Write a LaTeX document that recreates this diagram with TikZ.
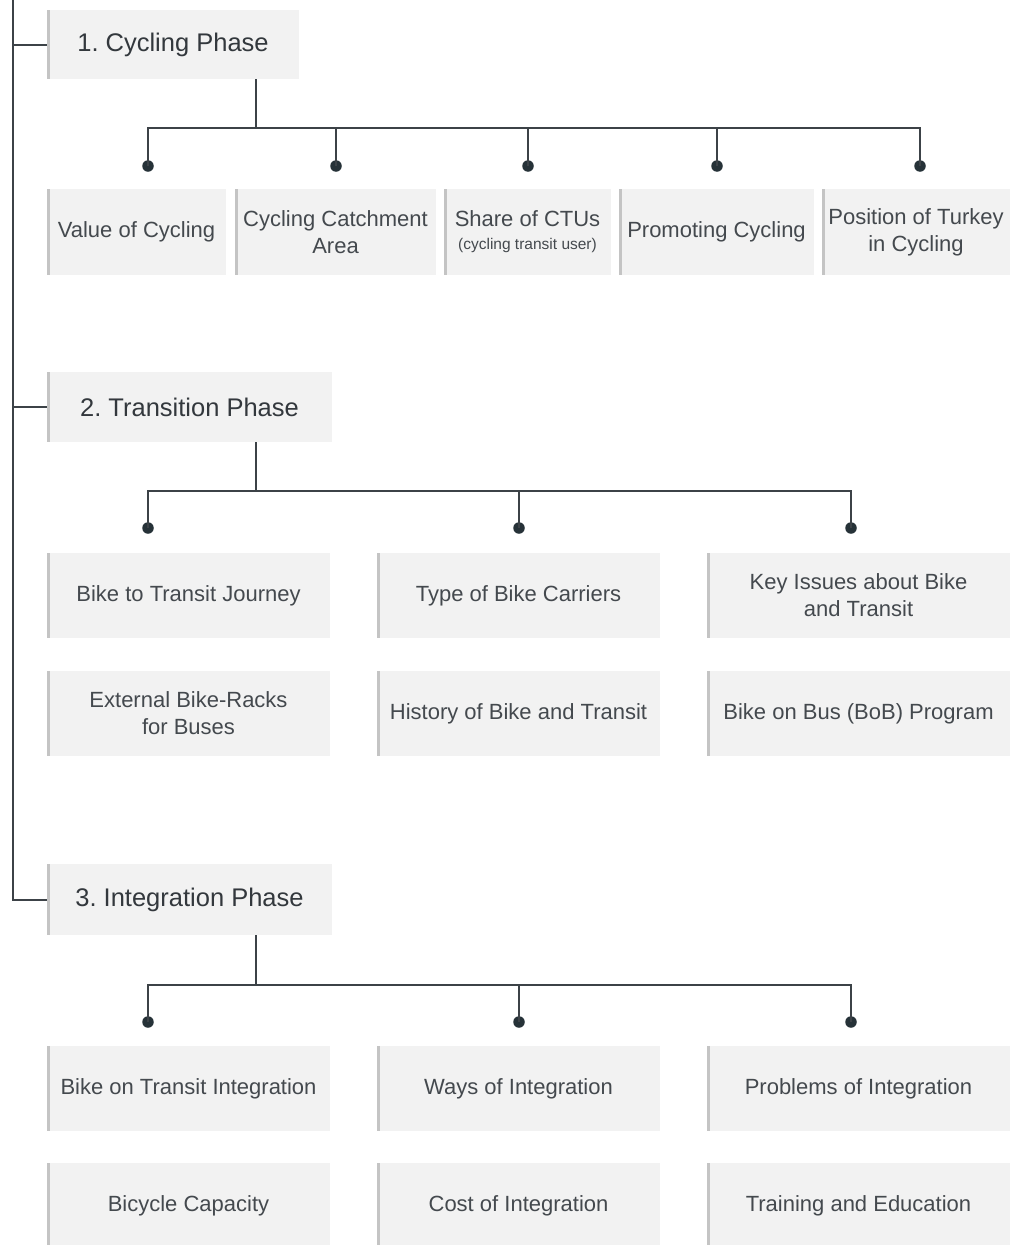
\documentclass[tikz,border=0pt]{standalone}
\usepackage{fontspec}
\setmainfont{Liberation Sans}
\frenchspacing
\begin{document}
\definecolor{boxfill}{HTML}{F2F2F2}
\definecolor{boxedge}{HTML}{C4C4C4}
\definecolor{linecol}{HTML}{3C4247}
\definecolor{dotcol}{HTML}{263238}
\definecolor{txtcol}{HTML}{44494E}
\definecolor{headcol}{HTML}{33383D}
\begin{tikzpicture}[x=1pt,y=-1pt,
  card/.style={fill=boxfill, draw=none, inner sep=0pt, align=center,
    text=txtcol, font=\fontsize{22}{27}\selectfont,
    path picture={\draw[boxedge, line width=5pt]
      (path picture bounding box.north west) -- (path picture bounding box.south west);}},
  phase/.style={card, text=headcol, font=\fontsize{25.5}{30}\selectfont},
  link/.style={draw=linecol, line width=2pt},
  dot/.style={circle, fill=dotcol, inner sep=0pt, minimum size=11.5pt}]
\useasboundingbox (0,0) rectangle (1010,1245);

% phase headers
\node[phase, minimum width=252pt, minimum height=69pt] (h1) at (173,44.5) {1. Cycling Phase};
\node[phase, minimum width=285pt, minimum height=70pt] (h2) at (189.5,407) {2. Transition Phase};
\node[phase, minimum width=285pt, minimum height=71pt] (h3) at (189.5,899.5) {3. Integration Phase};

% spine on the left
\coordinate (top) at (13,0);
\draw[link] (top) |- (h3.west);
\draw[link] (h1.west -| top) -- (h1.west);
\draw[link] (h2.west -| top) -- (h2.west);

% 1. cycling phase topics
\node[card, minimum width=179pt, minimum height=86pt] (c1) at (136.5,232) {Value of Cycling};
\node[card, minimum width=201pt, minimum height=86pt] (c2) at (335.5,232) {Cycling Catchment\\Area};
\node[card, minimum width=167pt, minimum height=86pt] (c3) at (527.5,232)
  {Share of CTUs\\[-4pt]{\fontsize{15.5}{18}\selectfont(cycling transit user)}};
\node[card, minimum width=195pt, minimum height=86pt] (c4) at (716.5,232) {Promoting Cycling};
\node[card, minimum width=188pt, minimum height=86pt] (c5) at (916,232) {Position of Turkey\\in Cycling};

\node[dot] (d1a) at (148,166) {};
\node[dot] (d1b) at (336,166) {};
\node[dot] (d1c) at (528,166) {};
\node[dot] (d1d) at (717,166) {};
\node[dot] (d1e) at (920,166) {};
\coordinate (j1) at (256,128);
\draw[link] (h1.south -| j1) -- (j1);
\draw[link] (d1a.center) -- (d1a.center |- j1) -- (d1e.center |- j1) -- (d1e.center);
\foreach \d in {d1b,d1c,d1d} \draw[link] (\d.center) -- (\d.center |- j1);

% 2. transition phase topics
\node[card, minimum width=283pt, minimum height=85pt] (t1) at (188.5,595.5) {Bike to Transit Journey};
\node[card, minimum width=283pt, minimum height=85pt] (t2) at (518.5,595.5) {Type of Bike Carriers};
\node[card, minimum width=303pt, minimum height=85pt] (t3) at (858.5,595.5) {Key Issues about Bike\\and Transit};
\node[card, minimum width=283pt, minimum height=85pt] (t4) at (188.5,713.5) {External Bike-Racks\\for Buses};
\node[card, minimum width=283pt, minimum height=85pt] (t5) at (518.5,713.5) {History of Bike and Transit};
\node[card, minimum width=303pt, minimum height=85pt] (t6) at (858.5,713.5) {Bike on Bus (BoB) Program};

\node[dot] (d2a) at (148,528) {};
\node[dot] (d2b) at (519,528) {};
\node[dot] (d2c) at (851,528) {};
\coordinate (j2) at (256,491);
\draw[link] (h2.south -| j2) -- (j2);
\draw[link] (d2a.center) -- (d2a.center |- j2) -- (d2c.center |- j2) -- (d2c.center);
\draw[link] (d2b.center) -- (d2b.center |- j2);

% 3. integration phase topics
\node[card, minimum width=283pt, minimum height=85pt] (i1) at (188.5,1088.5) {Bike on Transit Integration};
\node[card, minimum width=283pt, minimum height=85pt] (i2) at (518.5,1088.5) {Ways of Integration};
\node[card, minimum width=303pt, minimum height=85pt] (i3) at (858.5,1088.5) {Problems of Integration};
\node[card, minimum width=283pt, minimum height=85pt] (i4) at (188.5,1205.5) {Bicycle Capacity};
\node[card, minimum width=283pt, minimum height=85pt] (i5) at (518.5,1205.5) {Cost of Integration};
\node[card, minimum width=303pt, minimum height=85pt] (i6) at (858.5,1205.5) {Training and Education};

\node[dot] (d3a) at (148,1022) {};
\node[dot] (d3b) at (519,1022) {};
\node[dot] (d3c) at (851,1022) {};
\coordinate (j3) at (256,985);
\draw[link] (h3.south -| j3) -- (j3);
\draw[link] (d3a.center) -- (d3a.center |- j3) -- (d3c.center |- j3) -- (d3c.center);
\draw[link] (d3b.center) -- (d3b.center |- j3);
\end{tikzpicture}
\end{document}
